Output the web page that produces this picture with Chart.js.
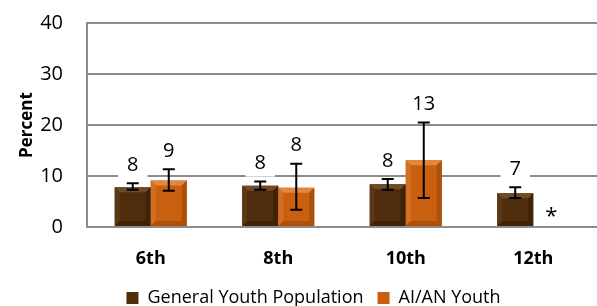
<!DOCTYPE html>
<html>
<head>
<meta charset="utf-8">
<script src="https://cdn.jsdelivr.net/npm/chart.js@4.4.1/dist/chart.umd.min.js"></script>
<style>
  html, body { margin: 0; padding: 0; background: #fff; }
  #wrap { width: 597px; height: 306px; position: relative; }
</style>
</head>
<body>
<div id="wrap"><canvas id="chart"></canvas></div>
<script>
// grades and values
const grades = ['6th', '8th', '10th', '12th'];
const generalPct = [7.8, 8.1, 8.4, 6.6];
const generalLow = [7.3, 7.3, 7.3, 5.7];
const generalHigh = [8.6, 8.9, 9.4, 7.8];
const aianPct = [9.1, 7.7, 13.1, null];
const aianLow = [7.1, 3.4, 5.7, null];
const aianHigh = [11.3, 12.4, 20.5, null];
const yTicks = [0, 10, 20, 30, 40];

const FONT = "'Open Sans', sans-serif";

// colours for the bevelled bars
const shades = [
    { base: '#4f2c0c', top: '#6e4a28', side: '#5c3716', dark: '#3f2208' },
    { base: '#c9600f', top: '#e2873c', side: '#d36f22', dark: '#ad5009' }
];

const bevelBars = {
    id: 'bevelBars',
    afterDatasetsDraw(chart) {
        const ctx = chart.ctx;
        chart.data.datasets.forEach((ds, di) => {
            const s = shades[di];
            chart.getDatasetMeta(di).data.forEach((bar, i) => {
                if (ds.data[i] == null) return;
                const l = bar.x - bar.width / 2, r = bar.x + bar.width / 2;
                const t = bar.y, b = bar.base;
                const k = Math.min(5, (b - t) / 2);
                ctx.save();
                // top
                ctx.fillStyle = s.top;
                ctx.beginPath();
                ctx.moveTo(l, t); ctx.lineTo(r, t); ctx.lineTo(r - k, t + k); ctx.lineTo(l + k, t + k);
                ctx.closePath(); ctx.fill();
                // left
                ctx.fillStyle = s.side;
                ctx.beginPath();
                ctx.moveTo(l, t); ctx.lineTo(l + k, t + k); ctx.lineTo(l + k, b - k); ctx.lineTo(l, b);
                ctx.closePath(); ctx.fill();
                // right and bottom
                ctx.fillStyle = s.dark;
                ctx.beginPath();
                ctx.moveTo(r, t); ctx.lineTo(r, b); ctx.lineTo(r - k, b - k); ctx.lineTo(r - k, t + k);
                ctx.closePath(); ctx.fill();
                ctx.beginPath();
                ctx.moveTo(l, b); ctx.lineTo(r, b); ctx.lineTo(r - k, b - k); ctx.lineTo(l + k, b - k);
                ctx.closePath(); ctx.fill();
                ctx.restore();
            });
        });
    }
};

// error bars plus the value labels that sit above them
const errorBars = {
    id: 'errorBars',
    afterDatasetsDraw(chart) {
        const ctx = chart.ctx;
        const y = chart.scales.y;
        const lows = [generalLow, aianLow], highs = [generalHigh, aianHigh];
        chart.data.datasets.forEach((ds, di) => {
            chart.getDatasetMeta(di).data.forEach((bar, i) => {
                ctx.save();
                ctx.font = '20px ' + FONT;
                ctx.textAlign = 'center';
                if (ds.data[i] == null) {
                    ctx.font = '22px ' + FONT;
                    ctx.fillStyle = '#000';
                    ctx.textBaseline = 'alphabetic';
                    ctx.fillText('*', bar.x, y.getPixelForValue(0) - 4);
                    ctx.restore();
                    return;
                }
                const yl = y.getPixelForValue(lows[di][i]);
                const yh = y.getPixelForValue(highs[di][i]);
                ctx.strokeStyle = '#000';
                ctx.lineWidth = 2;
                ctx.beginPath();
                ctx.moveTo(bar.x, yl); ctx.lineTo(bar.x, yh);
                ctx.moveTo(bar.x - 6, yl); ctx.lineTo(bar.x + 6, yl);
                ctx.moveTo(bar.x - 6, yh); ctx.lineTo(bar.x + 6, yh);
                ctx.stroke();

                const txt = String(Math.round(ds.data[i]));
                const cy = yh - 19;
                const w = ctx.measureText(txt).width + 18;
                ctx.fillStyle = '#fff';
                ctx.fillRect(bar.x - w / 2, cy - 14, w, 28);
                ctx.fillStyle = '#000';
                ctx.textBaseline = 'middle';
                ctx.fillText(txt, bar.x, cy + 1);
                ctx.restore();
            });
        });
    }
};

// nudge the legend a little to the right, like the original
const legendShift = {
    id: 'legendShift',
    afterLayout(chart) { chart.legend.left += 30; }
};

new Chart(document.getElementById('chart'), {
    type: 'bar',
    data: {
        labels: grades,
        datasets: [{
            label: 'General Youth Population',
            data: generalPct,
            backgroundColor: shades[0].base,
            borderWidth: 0
        }, {
            label: 'AI/AN Youth',
            data: aianPct,
            backgroundColor: shades[1].base,
            borderWidth: 0
        }]
    },
    options: {
        responsive: true,
        maintainAspectRatio: false,
        animation: false,
        datasets: { bar: { barPercentage: 1, categoryPercentage: 0.565 } },
        layout: { padding: { top: 11, right: 0, bottom: -11, left: 0 } },
        plugins: {
            legend: {
                position: 'bottom',
                labels: {
                    boxWidth: 12, boxHeight: 12, padding: 14,
                    color: '#000',
                    font: { family: FONT, size: 18 }
                }
            },
            tooltip: { enabled: false }
        },
        scales: {
            x: {
                grid: { display: false },
                border: { display: false },
                ticks: { color: '#000', padding: 13, font: { family: FONT, size: 18, weight: 'bold' } },
                afterFit(scale) { scale.height = 48; }
            },
            y: {
                min: 0, max: 40,
                afterBuildTicks(scale) { scale.ticks = yTicks.map(v => ({ value: v })); },
                grid: { color: '#8c8c8c', lineWidth: 2, drawTicks: false },
                border: { display: true, color: '#8c8c8c', width: 2 },
                ticks: { color: '#000', padding: 24, font: { family: FONT, size: 20 } },
                title: {
                    display: true, text: 'Percent', color: '#000',
                    padding: { top: 17, bottom: 0 },
                    font: { family: FONT, size: 17, weight: 'bold' }
                },
                afterFit(scale) {
                    scale.width = 87;
                    scale.paddingTop = 23;
                }
            }
        }
    },
    plugins: [bevelBars, errorBars, legendShift]
});
</script>
</body>
</html>
